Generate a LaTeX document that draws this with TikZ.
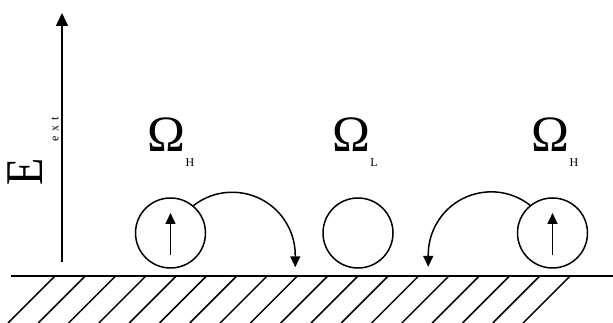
\documentclass[tikz,border=0pt]{standalone}
\usepackage{fontspec}
\setmainfont{Liberation Serif}
\usetikzlibrary{arrows.meta}
\begin{document}
\begin{tikzpicture}[x=1pt,y=1pt,
  line width=1.5pt,
  tip/.style={-{Triangle[width=10pt,length=11pt]}},
  bigtip/.style={-{Triangle[width=12pt,length=13pt]}},
  atom/.style={circle,draw,minimum size=70pt,inner sep=0pt},
  omega/.style={inner sep=0pt,font=\fontsize{51}{51}\selectfont},
  sub/.style={inner sep=0pt,font=\fontsize{12}{12}\selectfont}]
  \useasboundingbox (0,0) rectangle (613,323);

  % surface and hatching
  \coordinate (gl) at (11,47);
  \coordinate (gr) at (613,47);
  \draw (gl) -- (gr);
  \begin{scope}
    \clip (0,0) rectangle (613,47);
    \foreach \i in {0,...,17}{
      \draw ({55+30.3*\i},47) -- ++(-47,-47);
    }
  \end{scope}

  % external field axis
  \coordinate (ebot) at (62,61);
  \coordinate (etop) at (62,310);
  \draw[bigtip] (ebot) -- (etop);
  \node[rotate=90,inner sep=0pt,font=\fontsize{53}{53}\selectfont] (E) at (25.5,151.5) {\scalebox{0.84}[1]{E}};
  \node[rotate=90,inner sep=0pt,font=\fontsize{12}{12}\selectfont] (ext) at (55,194) {e\hspace{5pt}x\hspace{5pt}t};

  % labels
  \node[omega] (o1) at (166,188) {Ω};
  \node[sub] (s1) at (190,160) {H};
  \node[omega] (o2) at (351,188) {Ω};
  \node[sub] (s2) at (374,160) {L};
  \node[omega] (o3) at (550.5,188) {Ω};
  \node[sub] (s3) at (574,160) {H};

  % atoms
  \node[atom] (c1) at (170.5,90) {};
  \node[atom] (c2) at (358,90) {};
  \node[atom] (c3) at (552.5,90) {};

  % spins
  \coordinate (a1) at (170.5,68);
  \coordinate (b1) at (170.5,110);
  \draw[tip] (a1) -- (b1);
  \coordinate (a3) at (552.5,68);
  \coordinate (b3) at (552.5,110);
  \draw[tip] (a3) -- (b3);

  % hops
  \draw[tip] (c1.50.6) arc[start angle=128,end angle=0,radius=63] -- ++(0,-12);
  \draw[tip] (c3.129.4) arc[start angle=52,end angle=180,radius=63] -- ++(0,-12);
\end{tikzpicture}
\end{document}
